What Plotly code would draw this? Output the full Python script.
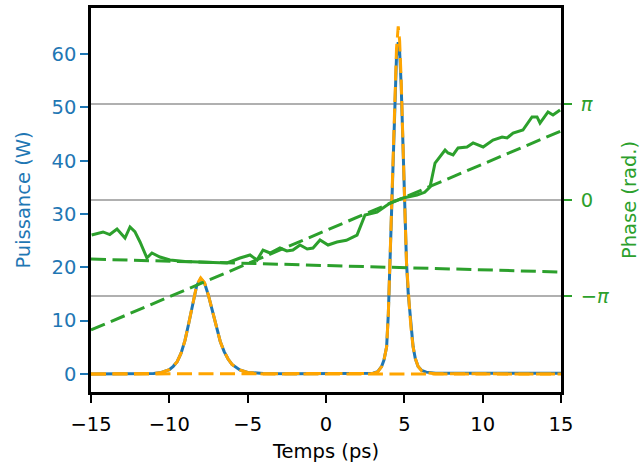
import numpy as np
import plotly.graph_objects as go

# ---- data ----
# total power (blue)
t_power = [-15, -12, -11.5, -11, -10.5, -10.25, -10, -9.75, -9.5, -9.25, -9.0, -8.75, -8.5, -8.25,
           -8.0, -7.75, -7.5, -7.25, -7.0, -6.75, -6.5, -6.25, -6.0, -5.5, -5.0, -4.5, -4, -2, 0, 2,
           2.5, 3.0, 3.3, 3.55, 3.7, 3.8, 3.87, 3.98, 4.08, 4.19, 4.3, 4.4, 4.5, 4.61, 4.7, 4.8, 4.9,
           5.04, 5.14, 5.25, 5.35, 5.45, 5.56, 5.7, 5.88, 6.1, 6.4, 7.0, 8, 10, 12, 15]
p_total = [0.0, 0.0, 0.03, 0.09, 0.28, 0.5, 0.83, 1.44, 2.3, 3.9, 6.3, 9.65, 13.3, 16.6,
           17.9, 17.0, 14.7, 11.7, 8.7, 6.1, 4.2, 2.8, 1.8, 0.75, 0.3, 0.15, 0.1, 0.05, 0.05, 0.05,
           0.05, 0.15, 0.45, 1.4, 2.6, 3.8, 5.1, 11.4, 20.8, 30.2, 42.0, 52.0, 59.5, 62.2, 60.5, 54.0, 43.0,
           30.2, 20.8, 15.0, 11.4, 7.8, 5.1, 2.9, 1.4, 0.7, 0.35, 0.15, 0.12, 0.12, 0.12, 0.12]

# fitted soliton 1 (orange dashed)
t_sol1 = [-15, -12, -11.5, -11, -10.5, -10.25, -10, -9.75, -9.5, -9.25, -9.0, -8.75, -8.5, -8.25,
          -8.0, -7.75, -7.5, -7.25, -7.0, -6.75, -6.5, -6.25, -6.0, -5.5, -5.0, -4.5, -4, 15]
p_sol1 = [0.0, 0.0, 0.03, 0.09, 0.28, 0.5, 0.83, 1.44, 2.3, 3.9, 6.3, 9.65, 13.3, 16.7,
          18.0, 17.1, 14.7, 11.7, 8.7, 6.1, 4.2, 2.8, 1.8, 0.75, 0.3, 0.12, 0.0, 0.0]

# fitted soliton 2 (orange dashed)
t_sol2 = [-15, 2.5, 3.0, 3.3, 3.55, 3.7, 3.8, 3.87, 3.98, 4.08, 4.19, 4.3, 4.4, 4.5, 4.61, 4.7, 4.8,
          4.9, 5.04, 5.14, 5.25, 5.35, 5.45, 5.56, 5.7, 5.88, 6.1, 6.4, 7.0, 15]
p_sol2 = [0.0, 0.0, 0.1, 0.4, 1.4, 2.6, 3.8, 5.1, 11.4, 20.8, 30.2, 42.0, 53.0, 61.0, 65.2, 62.5, 55.0,
          43.0, 30.2, 20.8, 15.0, 11.4, 7.8, 5.1, 2.9, 1.4, 0.6, 0.25, 0.05, 0.0]

# measured phase (green solid), in units of pi
t_phase = [-14.96, -14.6, -14.23, -13.8, -13.34, -12.83, -12.51, -12.2, -11.87, -11.43, -11.11, -10.6,
           -9.96, -9.0, -8.04, -7.2, -6.32, -5.49, -4.85, -4.40, -4.02, -3.57, -2.94, -2.5, -2.11,
           -1.66, -1.2, -0.83, -0.38, 0.13, 0.70, 1.3, 1.98, 2.49, 3.26, 4.09, 4.92, 5.81, 6.3,
           6.64, 6.96, 7.60, 7.79, 8.11, 8.43, 9.0, 9.39, 10.03, 10.66, 11.24, 11.56, 11.94,
           12.57, 13.15, 13.47, 13.66, 14.17, 14.49, 14.94]
phase_pi = [-0.365, -0.35, -0.333, -0.36, -0.302, -0.396, -0.281, -0.33, -0.4375, -0.604, -0.552, -0.594,
            -0.625, -0.64, -0.646, -0.65, -0.656, -0.604, -0.573, -0.625, -0.521, -0.552, -0.5, -0.53, -0.521,
            -0.469, -0.51, -0.5, -0.417, -0.469, -0.4375, -0.42, -0.365, -0.156, -0.125, -0.031, 0.021, 0.052, 0.08,
            0.135, 0.385, 0.521, 0.49, 0.469, 0.542, 0.552, 0.594, 0.552, 0.625, 0.656, 0.646, 0.698,
            0.729, 0.865, 0.865, 0.802, 0.917, 0.885, 0.9375]

# linear phases of the two solitons (green dashed), in units of pi
t_lin = [-15, 15]
phase1_pi = [-0.615, -0.75]
phase2_pi = [-1.354, 0.719]

# axis ticks
x_ticks = [-15, -10, -5, 0, 5, 10, 15]
p_ticks = [0, 10, 20, 30, 40, 50, 60]
phase_ticks_pi = [-1, 0, 1]
phase_ticktext = ["\u2212<i>\u03c0</i>", "0", "<i>\u03c0</i>"]

BLUE = "#1f77b4"
ORANGE = "#ffa500"
GREEN = "#2ca02c"
FONT = "DejaVu Sans"
FS = 19.5

fig = go.Figure()
fig.add_trace(go.Scatter(x=t_power, y=p_total, mode="lines",
                         line=dict(color=BLUE, width=3), yaxis="y"))
fig.add_trace(go.Scatter(x=t_sol1, y=p_sol1, mode="lines",
                         line=dict(color=ORANGE, width=3, dash="15px,6.5px"), yaxis="y"))
fig.add_trace(go.Scatter(x=t_sol2, y=p_sol2, mode="lines",
                         line=dict(color=ORANGE, width=3, dash="15px,6.5px"), yaxis="y"))

pi = np.pi
fig.add_trace(go.Scatter(x=t_phase, y=np.array(phase_pi) * pi, mode="lines",
                         line=dict(color=GREEN, width=3), yaxis="y2"))
fig.add_trace(go.Scatter(x=t_lin, y=np.array(phase1_pi) * pi, mode="lines",
                         line=dict(color=GREEN, width=3, dash="15px,6.5px"), yaxis="y2"))
fig.add_trace(go.Scatter(x=t_lin, y=np.array(phase2_pi) * pi, mode="lines",
                         line=dict(color=GREEN, width=3, dash="15px,6.5px"), yaxis="y2"))

fig.update_layout(
    width=643, height=465, autosize=False,
    margin=dict(l=91, r=82, t=8, b=73, autoexpand=False),
    plot_bgcolor="white", paper_bgcolor="white",
    showlegend=False,
    font=dict(family=FONT, size=FS, color="black"),
    xaxis=dict(range=[-15, 15], tickvals=x_ticks, ticks="outside", ticklen=8, tickwidth=1.8,
               tickcolor="black", showline=True, linecolor="black", linewidth=2.5, mirror=True,
               showgrid=False, zeroline=False, ticklabelstandoff=5, automargin=False,
               title=dict(text="Temps (ps)", standoff=10, font=dict(size=FS))),
    yaxis=dict(range=[-3.375, 68.63], tickvals=p_ticks, ticks="outside", ticklen=8, tickwidth=1.8,
               tickcolor=BLUE, tickfont=dict(color=BLUE), showline=True, linecolor="black",
               linewidth=2.5, showgrid=False, zeroline=False, automargin=False,
               title=dict(text="Puissance (W)", font=dict(color=BLUE, size=FS), standoff=16)),
    yaxis2=dict(range=[-2 * pi, 2 * pi], overlaying="y", side="right",
                tickvals=[v * pi for v in phase_ticks_pi], ticktext=phase_ticktext,
                ticks="outside", ticklen=8, tickwidth=1.8, tickcolor=GREEN,
                tickfont=dict(color=GREEN), showline=True, linecolor="black", linewidth=2.5,
                showgrid=True, gridcolor="#b0b0b0", gridwidth=1.6, zeroline=False,
                ticklabelstandoff=5, automargin=False,
                title=dict(text="Phase (rad.)", font=dict(color=GREEN, size=FS), standoff=15)),
)

fig.write_html("out.html", config={"displayModeBar": False},
               post_script="document.body.style.margin='0px';")
